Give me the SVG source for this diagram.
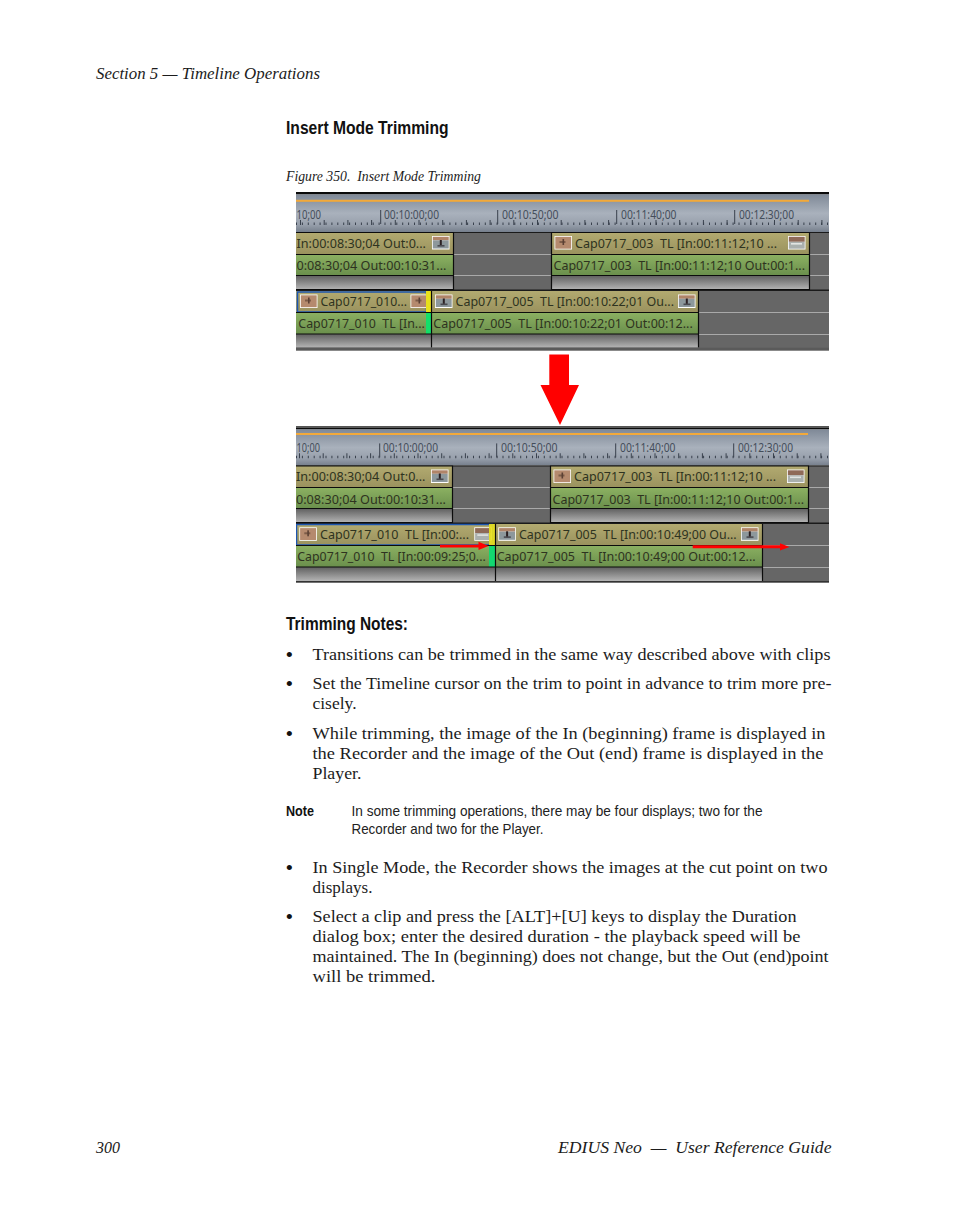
<svg xmlns="http://www.w3.org/2000/svg" xmlns:xlink="http://www.w3.org/1999/xlink" xml:space="preserve" width="954" height="1227" viewBox="0 0 954 1227"><style>
text{white-space:pre}
.p{font-family:"Liberation Serif",serif;font-size:17.5px;fill:#1c1c1c}
.b{font-family:"Liberation Sans",sans-serif;font-size:19px;fill:#111}
.i{font-family:"Liberation Serif",serif;font-style:italic;font-size:17.5px;fill:#1c1c1c}
.h{font-family:"Liberation Sans",sans-serif;font-weight:700;font-size:18px;fill:#111}
.n{font-family:"Liberation Sans",sans-serif;font-size:14.5px;fill:#222}
.c{font-family:"Noto Sans","DejaVu Sans",sans-serif;font-size:13px;fill:#2e3320}
.r{font-family:"Noto Sans","DejaVu Sans",sans-serif;font-size:12px;fill:#444d5a}
.gap{fill:#666}
.title{fill:url(#gT)}
.green{fill:url(#gG)}
.grey{fill:url(#gS)}
.k{stroke:#0c0c0c;stroke-width:1.2;fill:none}
.lt{stroke:#a9a9a9;stroke-width:1;fill:none}
.red{fill:#f00}
.tk{stroke:#39414d;fill:none}
</style><defs><linearGradient id="gR" x1="0" y1="0" x2="0" y2="1"><stop offset="0" stop-color="#7f8997"/><stop offset=".5" stop-color="#a9b1bc"/><stop offset=".8" stop-color="#98a0ac"/><stop offset="1" stop-color="#767f8c"/></linearGradient><linearGradient id="gT" x1="0" y1="0" x2="0" y2="1"><stop offset="0" stop-color="#b2aa70"/><stop offset="1" stop-color="#9a925e"/></linearGradient><linearGradient id="gG" x1="0" y1="0" x2="0" y2="1"><stop offset="0" stop-color="#8cb162"/><stop offset="1" stop-color="#6a8f4c"/></linearGradient><linearGradient id="gS" x1="0" y1="0" x2="0" y2="1"><stop offset="0" stop-color="#5f5f5f"/><stop offset="1" stop-color="#b4b4b4"/></linearGradient><clipPath id="cp"><rect x="296" y="185" width="533" height="400"/></clipPath><g id="thW"><rect width="17.5" height="13.5" fill="#fff"/><rect x=".8" y=".8" width="15.9" height="3.5" fill="#b08468"/><rect x=".8" y="4.3" width="15.9" height="8.2" fill="#8d989c"/><rect x="7.8" y="4" width="2" height="6" fill="#2b2022"/><rect x="5.5" y="9" width="7" height="1.6" fill="#4a4a50"/></g><g id="thB"><rect width="17.5" height="13.5" fill="#fff"/><rect x=".8" y=".8" width="15.9" height="11.9" fill="#b58a6e"/><rect x="5" y="5" width="6" height="2" fill="#7d5c48"/><rect x="8" y="3" width="1.6" height="6" fill="#5b4034"/></g><g id="thM"><rect width="17.5" height="13.5" fill="#fff"/><rect x=".8" y=".8" width="15.9" height="5" fill="#8f6a58"/><rect x=".8" y="5.8" width="15.9" height="6.9" fill="#aab0ae"/><rect x="3" y="7" width="11" height="1.6" fill="#e2e4e2"/></g></defs><rect width="954" height="1227" fill="#fff"/><g id="page-header"><text class="i" x="96" y="79" textLength="224" lengthAdjust="spacingAndGlyphs">Section 5 — Timeline Operations</text><text class="h" x="286" y="134" textLength="162.500" lengthAdjust="spacingAndGlyphs">Insert Mode Trimming</text><text class="i" x="286" y="181" style="font-size:14px" textLength="195" lengthAdjust="spacingAndGlyphs">Figure 350.  Insert Mode Trimming</text></g><g id="timeline-before" clip-path="url(#cp)"><rect x="296" y="192" width="533" height="2.500" fill="#0a0a0a"/><rect x="296" y="194.500" width="533" height="37.500" fill="url(#gR)"/><rect x="296" y="199.800" width="513" height="2" fill="#f2a93a"/><path class="tk" d="M296 223.800h533" stroke-width="2.500" stroke-dasharray="1 4.900"/><path class="tk" d="M300 222.500h529" stroke-width="5" stroke-dasharray="1 22.700"/><path class="tk" d="M380.700 210v14M497.700 210v14M616.700 210v14M734.700 210v14" stroke-width="1"/><text class="r" x="296.500" y="218.500" textLength="24.500" lengthAdjust="spacingAndGlyphs">10;00</text><text class="r" x="384" y="218.500" textLength="55" lengthAdjust="spacingAndGlyphs">00:10:00;00</text><text class="r" x="502" y="218.500" textLength="56.500" lengthAdjust="spacingAndGlyphs">00:10:50;00</text><text class="r" x="621" y="218.500" textLength="55.500" lengthAdjust="spacingAndGlyphs">00:11:40;00</text><text class="r" x="739" y="218.500" textLength="55" lengthAdjust="spacingAndGlyphs">00:12:30;00</text><rect class="gap" x="296" y="232" width="533" height="118"/><path class="lt" d="M453 254.500H829M453 275.500H829"/><path class="lt" d="M698 312.500H829M698 334.500H829M698 348.500H829"/><rect x="296" y="289.500" width="533" height="1.500" fill="#1a1a1a"/><rect x="296" y="232" width="533" height="1" fill="#1a1a1a"/><g id="clip-a1"><rect class="title" x="296" y="232.500" width="157.500" height="22"/><rect class="green" x="296" y="254.500" width="157.500" height="21"/><rect class="grey" x="296" y="275.500" width="157.500" height="14"/><path class="k" d="M296 232.500H453.500V289.500H296M296 254.500H453.500M296 275.500H453.500"/><text class="c" x="296.500" y="247.800" textLength="129.500" lengthAdjust="spacingAndGlyphs">In:00:08:30;04 Out:0...</text><use xlink:href="#thW" href="#thW" x="432" y="236"/><text class="c" x="296.500" y="270" textLength="150" lengthAdjust="spacingAndGlyphs">0:08:30;04 Out:00:10:31...</text></g><g id="clip-a2"><rect class="title" x="551.500" y="232.500" width="258" height="22"/><rect class="green" x="551.500" y="254.500" width="258" height="21"/><rect class="grey" x="551.500" y="275.500" width="258" height="14"/><path class="k" d="M551.500 232.500H809.500V289.500H551.500ZM551.500 254.500H809.500M551.500 275.500H809.500"/><use xlink:href="#thB" href="#thB" x="554.500" y="236"/><text class="c" x="575" y="247.800" textLength="202" lengthAdjust="spacingAndGlyphs">Cap0717_003  TL [In:00:11:12;10 ...</text><use xlink:href="#thM" href="#thM" x="788" y="236"/><text class="c" x="553.500" y="270" textLength="251.500" lengthAdjust="spacingAndGlyphs">Cap0717_003  TL [In:00:11:12;10 Out:00:1...</text></g><g id="clip-a3"><rect class="title" x="296" y="291" width="135.500" height="21.500"/><rect class="green" x="296" y="312.500" width="135.500" height="21.500"/><rect class="grey" x="296" y="334" width="135.500" height="13.500"/><rect x="297.500" y="292" width="129" height="20" fill="none" stroke="#1d56b0" stroke-width="1.500"/><use xlink:href="#thB" href="#thB" x="300" y="294.500"/><text class="c" x="320.500" y="305.700" textLength="86.500" lengthAdjust="spacingAndGlyphs">Cap0717_010...</text><use xlink:href="#thB" href="#thB" x="410.500" y="294.500"/><rect x="426" y="291" width="5.300" height="21.500" fill="#e8e01c"/><rect x="426" y="312.500" width="5.300" height="21.500" fill="#12e06a"/><text class="c" x="298.300" y="327.700" textLength="126.500" lengthAdjust="spacingAndGlyphs">Cap0717_010  TL [In...</text></g><g id="clip-a4"><rect class="title" x="431.500" y="291" width="267" height="21.500"/><rect class="green" x="431.500" y="312.500" width="267" height="21.500"/><rect class="grey" x="431.500" y="334" width="267" height="13.500"/><path class="k" d="M431.500 291V347.500M698.500 291V347.500M296 312.500H698.500M296 334H698.500"/><use xlink:href="#thW" href="#thW" x="435" y="294.500"/><text class="c" x="455.500" y="305.700" textLength="218.500" lengthAdjust="spacingAndGlyphs">Cap0717_005  TL [In:00:10:22;01 Ou...</text><use xlink:href="#thW" href="#thW" x="678" y="294.500"/><text class="c" x="433.300" y="327.700" textLength="259.500" lengthAdjust="spacingAndGlyphs">Cap0717_005  TL [In:00:10:22;01 Out:00:12...</text></g><rect x="296" y="347.700" width="533" height="3" fill="#5a5a5a"/></g><g id="connectors"><path id="big-arrow" class="red" d="M549.300 354.500H569V385H579L560 425 540.500 385H549.300Z"/></g><g id="timeline-after" clip-path="url(#cp)"><rect x="296" y="426" width="533" height="1.500" fill="#555"/><rect x="296" y="427.500" width="533" height="2" fill="#0a0a0a"/><rect x="296" y="429.500" width="533" height="36" fill="url(#gR)"/><rect x="296" y="433" width="512" height="2" fill="#f2a93a"/><path class="tk" d="M296 457.100h533" stroke-width="2.500" stroke-dasharray="1 4.900"/><path class="tk" d="M299 455.800h530" stroke-width="5" stroke-dasharray="1 22.700"/><path class="tk" d="M379.700 443.400v14M496.700 443.400v14M615.700 443.400v14M733.700 443.400v14" stroke-width="1"/><text class="r" x="296.500" y="452" textLength="23.500" lengthAdjust="spacingAndGlyphs">10;00</text><text class="r" x="383" y="452" textLength="55" lengthAdjust="spacingAndGlyphs">00:10:00;00</text><text class="r" x="501" y="452" textLength="56.500" lengthAdjust="spacingAndGlyphs">00:10:50;00</text><text class="r" x="620" y="452" textLength="55.500" lengthAdjust="spacingAndGlyphs">00:11:40;00</text><text class="r" x="738" y="452" textLength="55" lengthAdjust="spacingAndGlyphs">00:12:30;00</text><rect class="gap" x="296" y="465.500" width="533" height="117"/><path class="lt" d="M452 487.500H829M452 508.500H829"/><path class="lt" d="M762 545.500H829M762 567.500H829"/><rect x="296" y="522.500" width="533" height="1.500" fill="#1a1a1a"/><rect x="296" y="465.500" width="533" height="1" fill="#1a1a1a"/><g id="clip-b1"><rect class="title" x="296" y="466" width="156.500" height="21.500"/><rect class="green" x="296" y="487.500" width="156.500" height="21"/><rect class="grey" x="296" y="508.500" width="156.500" height="14"/><path class="k" d="M296 466H452.500V522.500H296M296 487.500H452.500M296 508.500H452.500"/><text class="c" x="296" y="481" textLength="129.500" lengthAdjust="spacingAndGlyphs">In:00:08:30;04 Out:0...</text><use xlink:href="#thW" href="#thW" x="431" y="469.500"/><text class="c" x="296" y="503.500" textLength="150" lengthAdjust="spacingAndGlyphs">0:08:30;04 Out:00:10:31...</text></g><g id="clip-b2"><rect class="title" x="550.500" y="466" width="258" height="21.500"/><rect class="green" x="550.500" y="487.500" width="258" height="21"/><rect class="grey" x="550.500" y="508.500" width="258" height="14"/><path class="k" d="M550.500 466H808.500V522.500H550.500ZM550.500 487.500H808.500M550.500 508.500H808.500"/><use xlink:href="#thB" href="#thB" x="553.500" y="469.500"/><text class="c" x="574" y="481" textLength="202" lengthAdjust="spacingAndGlyphs">Cap0717_003  TL [In:00:11:12;10 ...</text><use xlink:href="#thM" href="#thM" x="787" y="469.500"/><text class="c" x="552.500" y="503.500" textLength="251.500" lengthAdjust="spacingAndGlyphs">Cap0717_003  TL [In:00:11:12;10 Out:00:1...</text></g><g id="clip-b3"><rect class="title" x="296" y="524" width="199.500" height="21"/><rect class="green" x="296" y="545" width="199.500" height="22"/><rect class="grey" x="296" y="567" width="199.500" height="14"/><rect x="296.500" y="524.500" width="196" height="20.500" fill="none" stroke="#1d56b0" stroke-width="1.500"/><use xlink:href="#thB" href="#thB" x="299.300" y="527.300"/><text class="c" x="320" y="539" textLength="149" lengthAdjust="spacingAndGlyphs">Cap0717_010  TL [In:00:...</text><use xlink:href="#thM" href="#thM" x="474.300" y="527.300"/><rect x="489" y="524" width="6.300" height="21" fill="#e8e01c" opacity=".92"/><rect x="489" y="545" width="6.300" height="22" fill="#12d870"/><text class="c" x="297.300" y="560.700" textLength="188.500" lengthAdjust="spacingAndGlyphs">Cap0717_010  TL [In:00:09:25;0...</text></g><g id="clip-b4"><rect class="title" x="495.500" y="524" width="267" height="21"/><rect class="green" x="495.500" y="545" width="267" height="22"/><rect class="grey" x="495.500" y="567" width="267" height="14"/><path class="k" d="M495.500 524V581M762.500 524V581M296 545.500H762.500M296 567H762.500"/><use xlink:href="#thW" href="#thW" x="498.300" y="527.300"/><text class="c" x="519" y="539" textLength="217.700" lengthAdjust="spacingAndGlyphs">Cap0717_005  TL [In:00:10:49;00 Ou...</text><use xlink:href="#thW" href="#thW" x="741" y="527.300"/><text class="c" x="496.700" y="560.700" textLength="259" lengthAdjust="spacingAndGlyphs">Cap0717_005  TL [In:00:10:49;00 Out:00:12...</text></g><rect x="296" y="581" width="533" height="1.500" fill="#333"/></g><g id="trim-arrows"><path class="red" d="M440 544.800H478.500V541.800L488.500 546 478.500 550V547.500H440Z"/><path class="red" d="M692.700 545.300H780V543.300L789.500 547 780 550.500V548.300H692.700Z"/></g><g id="notes"><text class="h" x="286" y="630" textLength="122" lengthAdjust="spacingAndGlyphs">Trimming Notes:</text><g class="p"><text class="b" x="286" y="661">•</text><text x="312.500" y="660" textLength="518" lengthAdjust="spacingAndGlyphs">Transitions can be trimmed in the same way described above with clips</text><text class="b" x="286" y="690">•</text><text x="312.500" y="689" textLength="519" lengthAdjust="spacingAndGlyphs">Set the Timeline cursor on the trim to point in advance to trim more pre-</text><text x="312.500" y="709" textLength="44" lengthAdjust="spacingAndGlyphs">cisely.</text><text class="b" x="286" y="740">•</text><text x="312.500" y="739" textLength="513" lengthAdjust="spacingAndGlyphs">While trimming, the image of the In (beginning) frame is displayed in</text><text x="312.500" y="759" textLength="511" lengthAdjust="spacingAndGlyphs">the Recorder and the image of the Out (end) frame is displayed in the</text><text x="312.500" y="779" textLength="49" lengthAdjust="spacingAndGlyphs">Player.</text><text class="b" x="286" y="874">•</text><text x="312.500" y="873" textLength="515" lengthAdjust="spacingAndGlyphs">In Single Mode, the Recorder shows the images at the cut point on two</text><text x="312.500" y="893" textLength="60" lengthAdjust="spacingAndGlyphs">displays.</text><text class="b" x="286" y="923">•</text><text x="312.500" y="922" textLength="484" lengthAdjust="spacingAndGlyphs">Select a clip and press the [ALT]+[U] keys to display the Duration</text><text x="312.500" y="942" textLength="488" lengthAdjust="spacingAndGlyphs">dialog box; enter the desired duration - the playback speed will be</text><text x="312.500" y="962" textLength="516" lengthAdjust="spacingAndGlyphs">maintained. The In (beginning) does not change, but the Out (end)point</text><text x="312.500" y="982" textLength="123" lengthAdjust="spacingAndGlyphs">will be trimmed.</text></g><text class="h" x="286" y="816" style="font-size:15px" textLength="28" lengthAdjust="spacingAndGlyphs">Note</text><text class="n" x="351.500" y="816" textLength="411" lengthAdjust="spacingAndGlyphs">In some trimming operations, there may be four displays; two for the</text><text class="n" x="351.500" y="834" textLength="192" lengthAdjust="spacingAndGlyphs">Recorder and two for the Player.</text></g><g id="page-footer"><text class="i" x="96" y="1153" textLength="24" lengthAdjust="spacingAndGlyphs">300</text><text class="i" x="558" y="1153" textLength="273.500" lengthAdjust="spacingAndGlyphs">EDIUS Neo  —  User Reference Guide</text></g></svg>
